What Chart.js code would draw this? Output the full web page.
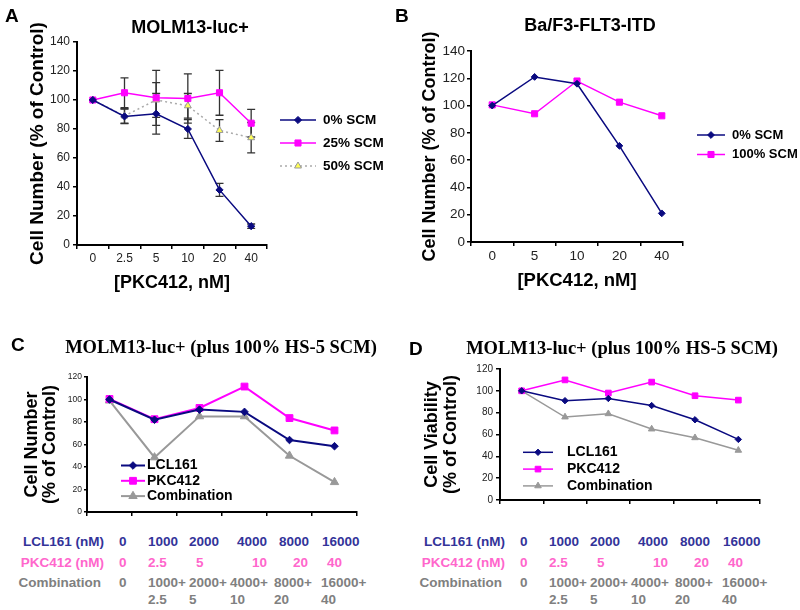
<!DOCTYPE html>
<html>
<head>
<meta charset="utf-8">
<script src="https://cdn.jsdelivr.net/npm/chart.js@4/dist/chart.umd.min.js"></script>
<style>
  body { margin: 0; background: #fff; }
  #wrap { position: relative; width: 800px; height: 610px; overflow: hidden; font-family: 'Liberation Sans', Arial, sans-serif; }
  canvas { position: absolute; }
  .t { position: absolute; white-space: nowrap; font-weight: bold; transform: translate(-50%, -50%); }
  .letter { position: absolute; font-weight: bold; font-size: 19px; line-height: 20px; }
  .serif { font-family: 'Liberation Serif', 'Times New Roman', serif; font-size: 18.5px; }
  .cell { position: absolute; white-space: nowrap; font-weight: bold; font-size: 13.5px; line-height: 16px; }
  .lcl { color: #333399; }
  .pkc { color: #ff66cc; }
  .combo { color: #808080; }
</style>
</head>
<body>
<div id="wrap">
  <canvas id="chartA" width="400" height="300" style="left:0;top:0"></canvas>
  <canvas id="chartB" width="400" height="300" style="left:400px;top:0"></canvas>
  <canvas id="chartC" width="400" height="220" style="left:0;top:300px"></canvas>
  <canvas id="chartD" width="400" height="220" style="left:400px;top:300px"></canvas>

  <div class="letter" style="left:5px;top:6px">A</div>
  <div class="letter" style="left:395px;top:6px">B</div>
  <div class="letter" style="left:11px;top:335px">C</div>
  <div class="letter" style="left:409px;top:339px">D</div>

  <div class="t" style="left:190px;top:27px;font-size:18px">MOLM13-luc+</div>
  <div class="t" style="left:590px;top:25px;font-size:18px">Ba/F3-FLT3-ITD</div>
  <div class="t serif" style="left:221px;top:347px">MOLM13-luc+ (plus 100% HS-5 SCM)</div>
  <div class="t serif" style="left:622px;top:348px">MOLM13-luc+ (plus 100% HS-5 SCM)</div>

  <div id="tableC"></div>
  <div id="tableD"></div>
</div>

<script>
// ---- data ----
// Panel A: MOLM13-luc+
const pkcLabelsA = ['0', '2.5', '5', '10', '20', '40'];
const scm0A = [100, 88.7, 90.5, 80, 38, 13];
const scm0ErrA = [0, 5, 14, 6.5, 4.5, 1.5];
const scm25A = [100, 105, 101.5, 101, 105, 84];
const scm25ErrA = [0, 10.3, 19, 17, 15.5, 9.5];
const scm50A = [100, 89, 100, 96, 79, 74];
const scm50ErrA = [0, 5, 12, 8.5, 7.5, 10.5];

// Panel B: Ba/F3-FLT3-ITD
const pkcLabelsB = ['0', '5', '10', '20', '40'];
const scm0B = [100, 121, 116, 70.5, 21];
const scm100B = [100.5, 94, 118, 102.5, 92.5];

// Panels C / D: dose table
const lclDoses = ['0', '1000', '2000', '4000', '8000', '16000'];
const pkcDoses = ['0', '2.5', '5', '10', '20', '40'];

// Panel C: cell number
const lclC = [100, 82, 91, 89, 64, 58.5];
const pkcC = [100.5, 82.5, 92.5, 111.5, 83.5, 72.5];
const comboC = [99, 48.5, 85, 85, 50, 26.5];

// Panel D: cell viability
const lclD = [100, 91, 93, 86.5, 73.5, 55.5];
const pkcD = [100, 110, 98, 108, 95.5, 91.5];
const comboD = [100, 76, 79, 65, 57, 45.5];

const family = "'Liberation Sans', Arial, sans-serif";
const NAVY = '#0a0a80';
const PINK = '#ff00ff';
const GRAY = '#999999';

// draws symmetric error bars under the points
const errorBars = {
  id: 'errorBars',
  beforeDatasetsDraw(chart, args, opts) {
    if (!opts.errors) return;
    const { ctx, scales: { x, y } } = chart;
    ctx.save();
    ctx.strokeStyle = opts.color;
    ctx.lineWidth = opts.width;
    opts.errors.forEach((errs, di) => {
      const vals = chart.data.datasets[di].data;
      errs.forEach((e, i) => {
        if (!e) return;
        const px = x.getPixelForValue(i);
        const lo = y.getPixelForValue(vals[i] - e);
        const hi = y.getPixelForValue(vals[i] + e);
        ctx.beginPath();
        ctx.moveTo(px, lo); ctx.lineTo(px, hi);
        ctx.moveTo(px - opts.cap, lo); ctx.lineTo(px + opts.cap, lo);
        ctx.moveTo(px - opts.cap, hi); ctx.lineTo(px + opts.cap, hi);
        ctx.stroke();
      });
    });
    ctx.restore();
  }
};

// simple legend: line sample + marker + bold label, placed freely
const lineLegend = {
  id: 'lineLegend',
  afterDraw(chart, args, opts) {
    const { ctx } = chart;
    chart.data.datasets.forEach((ds, i) => {
      const y = opts.y + i * opts.gap;
      ctx.save();
      ctx.strokeStyle = ds.borderColor;
      ctx.lineWidth = ds.borderWidth;
      ctx.setLineDash(ds.borderDash || []);
      ctx.beginPath();
      ctx.moveTo(opts.x0, y);
      ctx.lineTo(opts.x1, y);
      ctx.stroke();
      ctx.setLineDash([]);
      ctx.fillStyle = ds.pointBackgroundColor;
      ctx.strokeStyle = ds.pointBorderColor;
      ctx.lineWidth = 1;
      Chart.helpers.drawPoint(ctx, {
        pointStyle: ds.pointStyle, radius: ds.pointRadius, rotation: 0, borderWidth: 1
      }, (opts.x0 + opts.x1) / 2, y);
      ctx.fillStyle = '#000';
      ctx.font = 'bold ' + opts.size + 'px ' + family;
      ctx.textBaseline = 'middle';
      ctx.textAlign = 'left';
      ctx.fillText(ds.label, opts.textX, y);
      ctx.restore();
    });
  }
};

function series(label, data, color, style, radius, extra) {
  return Object.assign({
    label: label,
    data: data,
    borderColor: color,
    borderWidth: 1.5,
    pointStyle: style,
    pointRadius: radius,
    pointHoverRadius: radius,
    pointBackgroundColor: color,
    pointBorderColor: color,
    pointBorderWidth: 1,
    tension: 0,
    fill: false
  }, extra || {});
}

function xAxis(o) {
  return {
    type: 'category',
    offset: true,
    grid: { display: true, offset: true, drawOnChartArea: false, drawTicks: true, tickLength: o.tick, color: '#000', lineWidth: 1.5 },
    border: { display: true, color: '#000', width: 2 },
    ticks: { display: o.labels, font: { family: family, size: o.size }, color: '#222', padding: o.pad, maxRotation: 0, autoSkip: false },
    title: o.title ? { display: true, text: o.title, color: '#000', font: { family: family, size: o.titleSize, weight: 'bold' }, padding: { top: 0, bottom: o.titlePad } } : { display: false },
    afterFit: s => { s.height = o.height; }
  };
}

function yAxis(o) {
  return {
    min: 0,
    max: o.max,
    grid: { display: true, drawOnChartArea: false, drawTicks: true, tickLength: o.tick, color: '#000', lineWidth: 1.5 },
    border: { display: true, color: '#000', width: 2 },
    ticks: { stepSize: 20, font: { family: family, size: o.size }, color: '#222', padding: o.pad },
    title: { display: true, text: o.title, color: '#000', font: { family: family, size: o.titleSize, weight: 'bold', lineHeight: o.lineHeight }, padding: { top: o.titlePad, bottom: 0 } },
    afterFit: s => { s.width = o.width; }
  };
}

function baseOptions(pad, scales, plugins) {
  return {
    responsive: false,
    animation: false,
    layout: { padding: pad },
    scales: scales,
    plugins: Object.assign({ legend: { display: false }, tooltip: { enabled: false } }, plugins)
  };
}

// ---- Panel A ----
new Chart(document.getElementById('chartA'), {
  type: 'line',
  data: {
    labels: pkcLabelsA,
    datasets: [
      series('0% SCM', scm0A, NAVY, 'rectRot', 3.6),
      series('25% SCM', scm25A, PINK, 'rect', 4.3),
      series('50% SCM', scm50A, '#aaaaaa', 'triangle', 4, {
        borderDash: [2, 3], pointBackgroundColor: '#ffff55', pointBorderColor: '#999999'
      })
    ]
  },
  options: baseOptions({ left: 0, top: 42, right: 133, bottom: 0 }, {
    x: xAxis({ tick: 4, labels: true, size: 12, pad: 2, title: '[PKC412, nM]', titleSize: 18, titlePad: 6, height: 55 }),
    y: yAxis({ max: 140, tick: 4, size: 12, pad: 3, title: 'Cell Number (% of Control)', titleSize: 19, lineHeight: 1.2, titlePad: 26, width: 77 })
  }, {
    errorBars: { errors: [scm0ErrA, scm25ErrA, scm50ErrA], color: '#333', width: 1.3, cap: 4 },
    lineLegend: { x0: 280, x1: 316, textX: 323, y: 120, gap: 23, size: 13.5 }
  }),
  plugins: [errorBars, lineLegend]
});

// ---- Panel B ----
new Chart(document.getElementById('chartB'), {
  type: 'line',
  data: {
    labels: pkcLabelsB,
    datasets: [
      series('0% SCM', scm0B, NAVY, 'rectRot', 3.4),
      series('100% SCM', scm100B, PINK, 'rect', 4.3)
    ]
  },
  options: baseOptions({ left: 0, top: 51, right: 117, bottom: 0 }, {
    x: xAxis({ tick: 4, labels: true, size: 13.5, pad: 2, title: '[PKC412, nM]', titleSize: 18.5, titlePad: 8, height: 58 }),
    y: yAxis({ max: 140, tick: 4, size: 13.5, pad: 2, title: 'Cell Number (% of Control)', titleSize: 18, lineHeight: 1.2, titlePad: 19, width: 71 })
  }, {
    lineLegend: { x0: 297, x1: 325, textX: 332, y: 135, gap: 19.5, size: 13 }
  }),
  plugins: [lineLegend]
});

// ---- Panel C ----
new Chart(document.getElementById('chartC'), {
  type: 'line',
  data: {
    labels: lclDoses,
    datasets: [
      series('LCL161', lclC, NAVY, 'rectRot', 3.8, { borderWidth: 2 }),
      series('PKC412', pkcC, PINK, 'rect', 4.8, { borderWidth: 2 }),
      series('Combination', comboC, GRAY, 'triangle', 4.8, { borderWidth: 2 })
    ]
  },
  options: baseOptions({ left: 0, top: 77, right: 43, bottom: 0 }, {
    x: xAxis({ tick: 4, labels: false, size: 8, pad: 0, title: null, height: 8 }),
    y: yAxis({ max: 120, tick: 3, size: 8.5, pad: 2, title: ['Cell Number', '(% of Control)'], titleSize: 18, lineHeight: 1.0, titlePad: 23, width: 87 })
  }, {
    lineLegend: { x0: 121, x1: 145, textX: 147, y: 165.5, gap: 15.3, size: 14 }
  }),
  plugins: [lineLegend]
});

// ---- Panel D ----
new Chart(document.getElementById('chartD'), {
  type: 'line',
  data: {
    labels: lclDoses,
    datasets: [
      series('LCL161', lclD, NAVY, 'rectRot', 3.2),
      series('PKC412', pkcD, PINK, 'rect', 4),
      series('Combination', comboD, GRAY, 'triangle', 3.8)
    ]
  },
  options: baseOptions({ left: 0, top: 69, right: 40, bottom: 0 }, {
    x: xAxis({ tick: 4, labels: false, size: 8, pad: 0, title: null, height: 20 }),
    y: yAxis({ max: 120, tick: 4, size: 10, pad: 3, title: ['Cell Viability', '(% of Control)'], titleSize: 18, lineHeight: 1.05, titlePad: 23, width: 100 })
  }, {
    lineLegend: { x0: 123, x1: 153, textX: 167, y: 152.3, gap: 16.8, size: 14 }
  }),
  plugins: [lineLegend]
});

// ---- dose tables under C and D ----
const colLcl = [119, 148, 189, 237, 279, 322];
const colPkc = [119, 148, 196, 252, 293, 327];
const colCombo = [119, 148, 189, 230, 274, 321];
const rowY = [534, 555, 575, 592];

function buildTable(id, dx) {
  const box = document.getElementById(id);
  function put(text, cls, left, top, right) {
    const s = document.createElement('span');
    s.className = 'cell ' + cls;
    s.textContent = text;
    s.style.top = top + 'px';
    if (right) s.style.right = (800 - left) + 'px';
    else s.style.left = left + 'px';
    box.appendChild(s);
  }
  put('LCL161 (nM)', 'lcl', dx + 104, rowY[0], true);
  put('PKC412 (nM)', 'pkc', dx + 104, rowY[1], true);
  put('Combination', 'combo', dx + 101, rowY[2], true);
  lclDoses.forEach((d, i) => put(d, 'lcl', dx + colLcl[i], rowY[0]));
  pkcDoses.forEach((d, i) => put(d, 'pkc', dx + colPkc[i], rowY[1]));
  lclDoses.forEach((d, i) => {
    if (i === 0) { put('0', 'combo', dx + colCombo[0], rowY[2]); return; }
    put(d + '+', 'combo', dx + colCombo[i], rowY[2]);
    put(pkcDoses[i], 'combo', dx + colCombo[i], rowY[3]);
  });
}
buildTable('tableC', 0);
buildTable('tableD', 401);
</script>
</body>
</html>
